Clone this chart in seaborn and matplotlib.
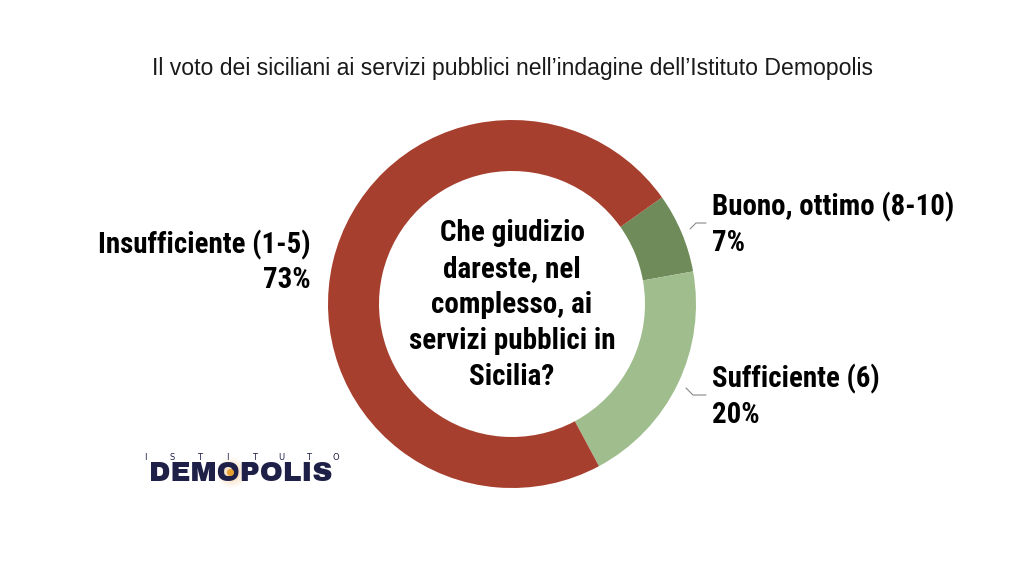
import matplotlib
matplotlib.use('Agg')
import matplotlib.pyplot as plt
import seaborn as sb

# survey answers, clockwise from the top-right
categories = ['Buono, ottimo (8-10)', 'Sufficiente (6)', 'Insufficiente (1-5)']
values = [7, 20, 73]
colors = ['#6f8b5a', '#a0bd8e', '#a63f2e']

title = "Il voto dei siciliani ai servizi pubblici nell\u2019indagine dell\u2019Istituto Demopolis"
question = "Che giudizio\ndareste, nel\ncomplesso, ai\nservizi pubblici in\nSicilia?"

sb.set_theme(style='white')
plt.rcParams['font.family'] = ['Roboto Condensed', 'Archivo Narrow', 'DejaVu Sans']

W, H = 1024, 576
fig = plt.figure(figsize=(W / 100, H / 100), dpi=100)
ax = fig.add_axes([0, 0, 1, 1])

# work in pixel coordinates, y measured from the top
def py(y):
    return H - y

ax.pie(values, colors=colors, startangle=35.4, counterclock=False,
       center=(512, py(304)), radius=184,
       wedgeprops=dict(width=184 - 133, linewidth=0))
ax.set_xlim(0, W)
ax.set_ylim(0, H)
ax.set_aspect('auto')
ax.axis('off')

fig.text(0.5, 1 - 75 / H, title, ha='center', va='baseline', fontsize=16.6,
         family=['Liberation Sans', 'DejaVu Sans'], color='#1a1a1a')

ax.text(512, py(305), question, ha='center', va='center', fontsize=21,
        fontweight='bold', linespacing=1.36, color='black')

lab = dict(fontsize=20.8, fontweight='bold', color='black', va='baseline')
ax.text(712, py(215), categories[0], ha='left', **lab)
ax.text(712, py(251), f'{values[0]}%', ha='left', **lab)
ax.text(712, py(387), categories[1], ha='left', **lab)
ax.text(712, py(423), f'{values[1]}%', ha='left', **lab)
ax.text(311, py(253), categories[2], ha='right', **lab)
ax.text(311, py(288), f'{values[2]}%', ha='right', **lab)

# leader lines
ax.plot([690, 696, 706], [py(229), py(223), py(223)], color='#888888', lw=0.8)
ax.plot([686, 693, 706], [py(388), py(395), py(395)], color='#888888', lw=0.8)

# Demopolis logo
navy = '#1e2048'
for i, ch in enumerate('ISTITUTO'):
    ax.text(145 + i * 27.3, py(457), ch, ha='center', va='center', fontsize=6,
            family='DejaVu Sans', color=navy)
for r, a in [(15, 0.07), (12, 0.1), (9, 0.16)]:
    ax.scatter([231], [py(472)], s=(2 * r) ** 2 * 0.52, color='#f0a850', alpha=a,
               lw=0, zorder=3)
ax.text(240.5, py(481), 'DEMOPOLIS', ha='center', va='baseline', fontsize=20,
        family=['Archivo Black', 'DejaVu Sans'], fontweight='heavy',
        color=navy, zorder=4)
ax.scatter([230], [py(472)], s=26, color='#e8a030', lw=0, zorder=5)

fig.savefig('out.png', dpi=100, facecolor='white')
